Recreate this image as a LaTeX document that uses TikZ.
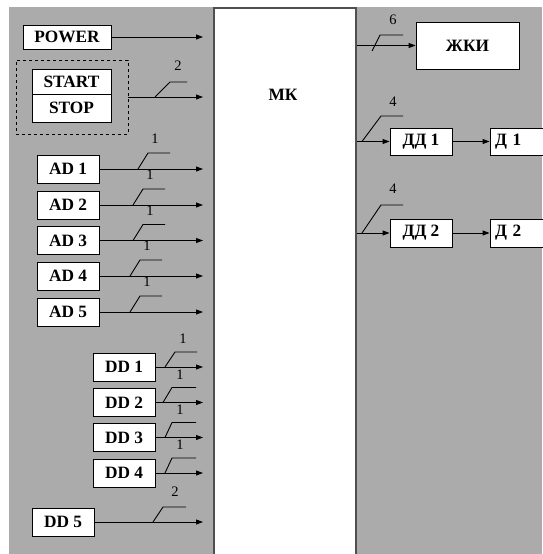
\documentclass[tikz,border=0pt]{standalone}
\usepackage{fontspec}
\setmainfont{Liberation Serif}
\usetikzlibrary{arrows.meta}
\definecolor{bggray}{RGB}{171,171,171}
\definecolor{mkedge}{RGB}{80,80,80}
\tikzset{
  box/.style={draw=black, fill=white, line width=0.9pt, inner sep=0pt,
    font=\bfseries\fontsize{17.3}{17.3}\selectfont},
  conn/.style={draw=black, line width=0.9pt, -{Triangle[length=7pt,width=5pt]}},
  busline/.style={draw=black, line width=0.9pt},
  buslabel/.style={font=\fontsize{14.5}{14.5}\selectfont, inner sep=0pt}
}
\begin{document}
\begin{tikzpicture}[x=1pt,y=-1pt]
\useasboundingbox (0,0) rectangle (542,554);
\fill[bggray] (9,7) rectangle (542,554);
% MK
\node[draw=mkedge, fill=white, line width=1.5pt, minimum width=142pt, minimum height=552pt, inner sep=0pt] (mk) at (285,284) {};
\node[font=\bfseries\fontsize{17.3}{17.3}\selectfont] (mklabel) at (283,95) {МК};
% left inputs
\node[box, minimum width=88pt, minimum height=24pt] (power) at (67,37) {POWER};
\node[draw=black, dashed, line width=0.9pt, minimum width=112pt, minimum height=74pt, inner sep=0pt] (ssgroup) at (72,97) {};
\node[box, minimum width=79pt, minimum height=25pt] (start) at (71.5,81.5) {START};
\node[box, minimum width=79pt, minimum height=28pt] (stop) at (71.5,108) {STOP};
\foreach \i/\y in {1/169,2/205,3/240.5,4/276,5/312}{
  \node[box, minimum width=62pt, minimum height=28pt] (ad\i) at (68,\y) {AD \i};
}
\foreach \i/\y in {1/367,2/402.5,3/437.5,4/473}{
  \node[box, minimum width=62pt, minimum height=28pt] (dd\i) at (124,\y) {DD \i};
}
\node[box, minimum width=62pt, minimum height=28pt] (dd5) at (63,522) {DD 5};
% right side
\node[box, minimum width=103pt, minimum height=47pt] (zhki) at (467.5,45.5) {ЖКИ};
\node[box, minimum width=62pt, minimum height=27pt] (ddd1) at (421,141.5) {ДД 1};
\node[box, minimum width=62pt, minimum height=28pt] (ddd2) at (421,233) {ДД 2};
\node[box, minimum height=27pt, text width=50pt, inner xsep=5pt, align=left] (d1) at (520,141.5) {Д 1};
\node[box, minimum height=28pt, text width=50pt, inner xsep=5pt, align=left] (d2) at (520,233) {Д 2};
% end coordinates at MK
\coordinate (epow) at (203,37);
\coordinate (ess) at (203,97);
\foreach \i/\y in {1/169,2/205,3/240.5,4/276,5/312}{\coordinate (ead\i) at (203,\y);}
\foreach \i/\y in {1/367,2/402.5,3/437.5,4/473}{\coordinate (edd\i) at (203,\y);}
\coordinate (edd5) at (203,522);
% connectors
\draw[conn] (power) -- (epow);
\draw[conn] (ssgroup) -- (ess);
\foreach \i in {1,...,5}{\draw[conn] (ad\i) -- (ead\i);}
\foreach \i in {1,...,4}{\draw[conn] (dd\i) -- (edd\i);}
\draw[conn] (dd5) -- (edd5);
\draw[conn] (mk.east |- zhki.west) -- (zhki);
\draw[conn] (mk.east |- ddd1.west) -- (ddd1);
\draw[conn] (mk.east |- ddd2.west) -- (ddd2);
\draw[conn] (ddd1) -- (d1);
\draw[conn] (ddd2) -- (d2);
% bus markers
\draw[busline] (155,97) -- (170,82) -- (187,82);
\node[buslabel] (l2a) at (178,66) {2};
\foreach \y/\s/\t/\e in {169/138/148/170, 205/133/143/165, 240.5/133/143/165, 276/130/140/162, 312/130/140/162}{
  \draw[busline] (\s,\y) -- (\t,\y-16) -- (\e,\y-16);
  \node[buslabel] at (\t+7,\y-30) {1};
}
\foreach \y/\s/\t/\e in {367/165/175/197, 402.5/163/172/196, 437.5/165/172/196, 473/165/172/196}{
  \draw[busline] (\s,\y) -- (\t,\y-15) -- (\e,\y-15);
  \node[buslabel] at (\t+8,\y-28) {1};
}
\draw[busline] (153,522) -- (163,507) -- (186,507);
\node[buslabel] (l2b) at (175,492) {2};
\draw[busline] (372,51) -- (380,35) -- (403,35);
\node[buslabel] (l6) at (393,20) {6};
\draw[busline] (362,141.5) -- (381,116) -- (403,116);
\node[buslabel] (l4a) at (393,102) {4};
\draw[busline] (362,233) -- (381,205) -- (403,205);
\node[buslabel] (l4b) at (393,189) {4};
\end{tikzpicture}
\end{document}
